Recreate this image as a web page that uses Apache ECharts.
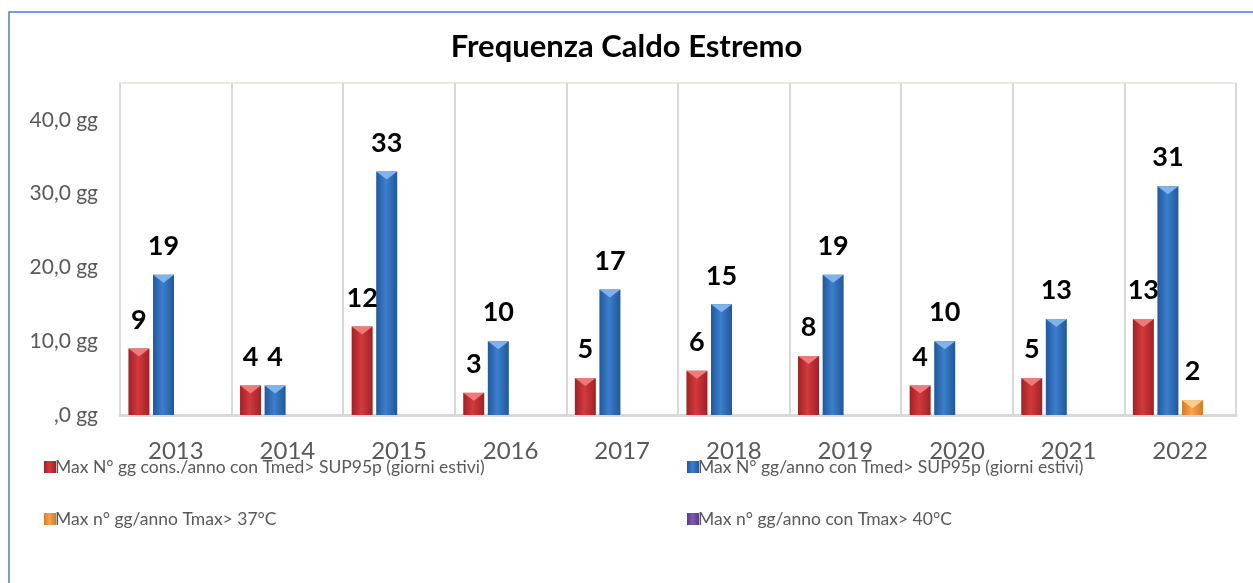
<!DOCTYPE html>
<html>
<head>
<meta charset="utf-8">
<script src="https://cdn.jsdelivr.net/npm/echarts@6/dist/echarts.min.js"></script>
<style>
  html, body { margin: 0; padding: 0; background: #fff; }
  #chart { width: 1253px; height: 583px; }
</style>
</head>
<body>
<div id="chart"></div>
<script>
// dati
var years = ['2013', '2014', '2015', '2016', '2017', '2018', '2019', '2020', '2021', '2022'];
var seriesNames = [
    'Max N° gg cons./anno con Tmed> SUP95p (giorni estivi)',
    'Max N° gg/anno con Tmed> SUP95p (giorni estivi)',
    'Max n° gg/anno Tmax> 37°C',
    'Max n° gg/anno con Tmax> 40°C'
];
var consecDays = [9, 4, 12, 3, 5, 6, 8, 4, 5, 13];
var totalDays = [19, 4, 33, 10, 17, 15, 19, 10, 13, 31];
var over37 = ['-', '-', '-', '-', '-', '-', '-', '-', '-', 2];
var over40 = ['-', '-', '-', '-', '-', '-', '-', '-', '-', '-'];
var yTicks = [0, 10, 20, 30, 40];

// colori: bordo scuro, centro chiaro, smusso in alto
var palette = [
    {dark: '#9e2226', mid: '#d4393c', bevel: '#ee7a7a'},
    {dark: '#22579a', mid: '#3b7fcc', bevel: '#7fb3ec'},
    {dark: '#d57a22', mid: '#f6a550', bevel: '#fbd08e'},
    {dark: '#573b86', mid: '#7d5bb0', bevel: '#b49ad8'}
];

var font = 'Lato, "Open Sans", sans-serif';
var barW = 21;
var gap = '17%';

function grad(c) {
    return new echarts.graphic.LinearGradient(0, 0, 1, 0, [
        {offset: 0, color: c.dark},
        {offset: 0.45, color: c.mid},
        {offset: 1, color: c.dark}
    ]);
}

var datasets = [consecDays, totalDays, over37, over40];

var series = [];
datasets.forEach(function (d, i) {
    series.push({
        name: seriesNames[i],
        type: 'bar',
        data: d,
        barWidth: barW,
        barGap: gap,
        itemStyle: {color: grad(palette[i])},
        label: {
            show: true,
            position: 'top',
            distance: 15,
            color: '#000',
            fontFamily: font,
            fontWeight: 'bold',
            fontSize: 27
        }
    });
});
// smusso triangolare in cima alle barre
datasets.forEach(function (d, i) {
    series.push({
        name: 'bevel' + i,
        type: 'pictorialBar',
        data: d,
        barWidth: barW,
        barGap: gap,
        symbol: 'path://M0,0 L10,0 L5,4 Z',
        symbolSize: [barW, 8],
        symbolPosition: 'end',
        symbolOffset: [0, 0],
        itemStyle: {color: palette[i].bevel},
        silent: true,
        z: 3
    });
});

var legendBase = {
    orient: 'vertical',
    itemWidth: 12,
    itemHeight: 12,
    itemGap: 34,
    icon: 'rect',
    textStyle: {fontFamily: font, fontSize: 17.5, color: '#595959', padding: [0, 0, 0, -6]}
};

var myChart = echarts.init(document.getElementById('chart'));
myChart.setOption({
    animation: false,
    color: palette.map(function (c) { return c.mid; }),
    title: {
        text: 'Frequenza Caldo Estremo',
        left: 'center',
        top: 26,
        textStyle: {fontFamily: font, fontWeight: 'bold', fontSize: 31, color: '#000'}
    },
    graphic: [{
        type: 'rect',
        shape: {x: 9, y: 12, width: 1400, height: 800},
        style: {fill: 'none', stroke: '#4f81bd', lineWidth: 1.5},
        silent: true
    }],
    legend: [
        Object.assign({left: 39, top: 453, data: [seriesNames[0], seriesNames[2]]}, legendBase),
        Object.assign({left: 682, top: 453, data: [seriesNames[1], seriesNames[3]]}, legendBase)
    ],
    grid: {
        left: 120, right: 17, top: 83, bottom: 168,
        show: true, borderColor: '#ece9e1', borderWidth: 2
    },
    xAxis: {
        type: 'category',
        data: years,
        axisTick: {show: false},
        axisLine: {lineStyle: {color: '#d9d9d9', width: 3}},
        splitLine: {show: true, interval: 0, lineStyle: {color: '#d9d9d9', width: 2}},
        axisLabel: {margin: 24, fontFamily: font, fontSize: 24, color: '#595959'}
    },
    yAxis: {
        type: 'value',
        min: 0,
        max: 45,
        interval: 10,
        splitLine: {show: false},
        axisLine: {show: false},
        axisTick: {show: false},
        axisLabel: {
            margin: 22,
            fontFamily: font,
            fontSize: 21,
            color: '#595959',
            showMaxLabel: false,
            formatter: function (v) {
                if (yTicks.indexOf(v) < 0) return '';
                return v === 0 ? ',0 gg' : v.toFixed(1).replace('.', ',') + ' gg';
            }
        }
    },
    series: series
});
</script>
</body>
</html>
